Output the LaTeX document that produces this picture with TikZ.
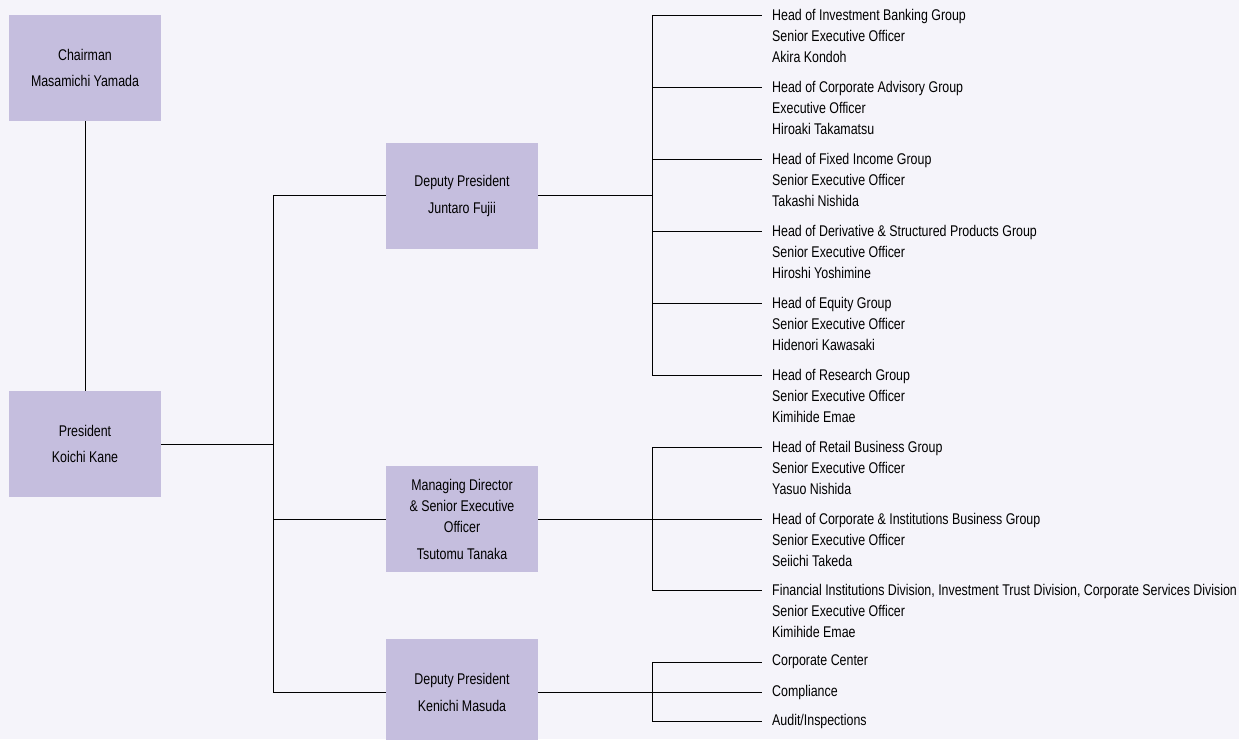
\documentclass[tikz,border=0pt]{standalone}
\usepackage{fontspec}
\setmainfont{Liberation Sans}[FakeStretch=0.80]
\definecolor{bgc}{HTML}{F5F4FA}
\definecolor{boxc}{HTML}{C5BEDE}
\begin{document}
\begin{tikzpicture}[x=1pt,y=-1pt,
  box/.style={fill=boxc, minimum width=152pt, minimum height=106pt, inner sep=0pt, align=center, font=\fontsize{15.5}{21}\selectfont},
  lbl/.style={anchor=west, align=left, inner sep=0pt, font=\fontsize{15.5}{21}\selectfont},
  conn/.style={draw=black, line width=0.8pt}]
\fill[bgc] (0,0) rectangle (1239,739);
\useasboundingbox (0,0) rectangle (1239,739);
% boxes
\node[box] (chair) at (85,68) {Chairman\\[5pt]Masamichi Yamada};
\node[box] (pres) at (85,444) {President\\[5pt]Koichi Kane};
\node[box] (fujii) at (462,196) {Deputy President\\[6pt]Juntaro Fujii};
\node[box] (tanaka) at (462,519) {Managing Director\\\& Senior Executive\\Officer\\[6pt]Tsutomu Tanaka};
\node[box] (masuda) at (462,692) {Deputy President\\[6pt]Kenichi Masuda};
% trunk
\draw[conn] (chair) -- (pres);
\coordinate (t) at (273,195);
\coordinate (b) at (273,692);
\coordinate (jp) at (273,444);
\coordinate (jt) at (273,519);
\draw[conn] (t) -- (b);
\draw[conn] (pres.east |- jp) -- (jp);
\draw[conn] (t) -- (t -| fujii.west);
\draw[conn] (jt) -- (tanaka.west);
\draw[conn] (b) -- (masuda.west);
% Fujii branch
\coordinate (f0) at (652,15);
\coordinate (f5) at (652,375);
\draw[conn] (f0) -- (f5);
\draw[conn] (fujii.east |- t) -- (t -| f0);
% Tanaka branch
\coordinate (g0) at (652,447);
\coordinate (g2) at (652,590);
\draw[conn] (g0) -- (g2);
\draw[conn] (tanaka.east) -- (tanaka.east -| g0);
% Masuda branch
\coordinate (h0) at (652,662);
\coordinate (h2) at (652,721);
\draw[conn] (h0) -- (h2);
\draw[conn] (masuda.east) -- (masuda.east -| h0);
% leaves
\foreach \n/\y in {1/15,2/87,3/159,4/231,5/303,6/375,7/447,8/519,9/590,10/662,11/692,12/721}{
  \coordinate (a\n) at (652,\y);
  \coordinate (e\n) at (762,\y);
  \draw[conn] (a\n) -- (e\n);
}
\node[lbl] (l1) at (772,36) {Head of Investment Banking Group\\Senior Executive Officer\\Akira Kondoh};
\node[lbl] (l2) at (772,108) {Head of Corporate Advisory Group\\Executive Officer\\Hiroaki Takamatsu};
\node[lbl] (l3) at (772,180) {Head of Fixed Income Group\\Senior Executive Officer\\Takashi Nishida};
\node[lbl] (l4) at (772,252) {Head of Derivative \& Structured Products Group\\Senior Executive Officer\\Hiroshi Yoshimine};
\node[lbl] (l5) at (772,324) {Head of Equity Group\\Senior Executive Officer\\Hidenori Kawasaki};
\node[lbl] (l6) at (772,396) {Head of Research Group\\Senior Executive Officer\\Kimihide Emae};
\node[lbl] (l7) at (772,468) {Head of Retail Business Group\\Senior Executive Officer\\Yasuo Nishida};
\node[lbl] (l8) at (772,540) {Head of Corporate \& Institutions Business Group\\Senior Executive Officer\\Seiichi Takeda};
\node[lbl] (l9) at (772,611) {Financial Institutions Division, Investment Trust Division, Corporate Services Division\\Senior Executive Officer\\Kimihide Emae};
\node[lbl] (l10) at (772,662) {Corporate Center};
\node[lbl] (l11) at (772,692) {Compliance};
\node[lbl] (l12) at (772,721) {Audit/Inspections};
\end{tikzpicture}
\end{document}
